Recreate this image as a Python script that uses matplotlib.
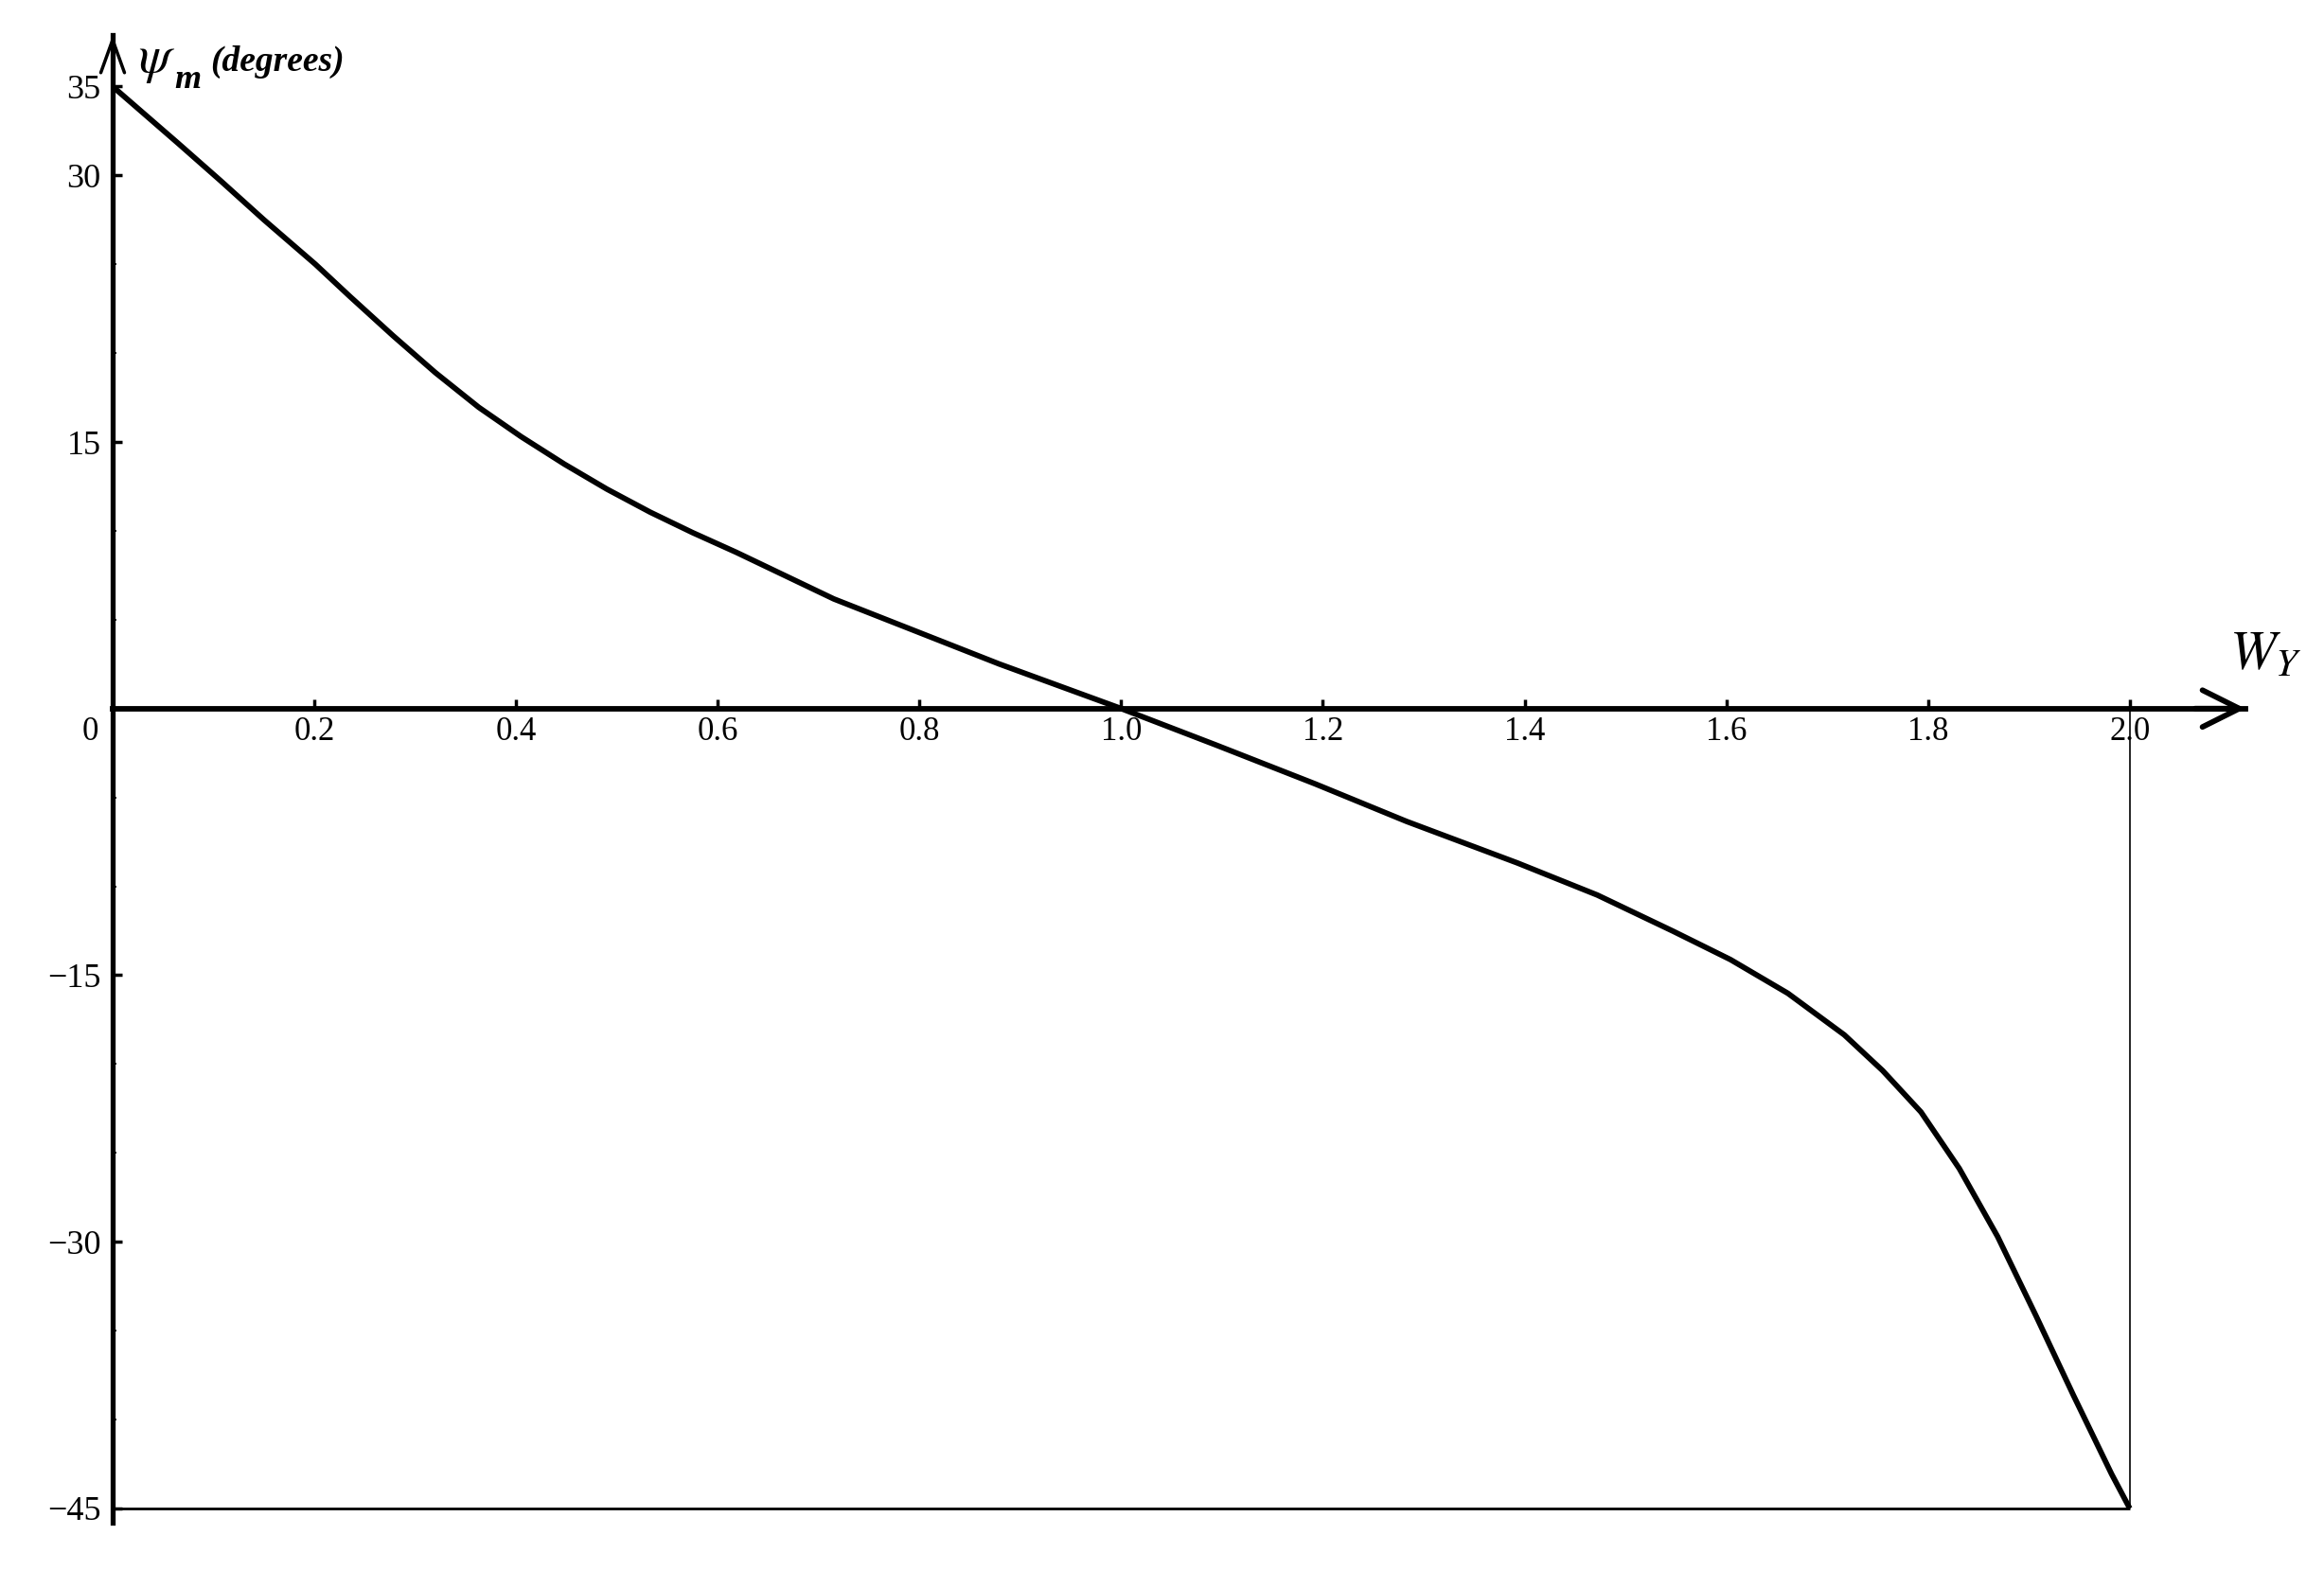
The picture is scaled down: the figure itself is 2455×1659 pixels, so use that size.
import matplotlib
matplotlib.use("Agg")
import matplotlib.pyplot as plt
from matplotlib.patches import ArrowStyle
from matplotlib.ticker import MultipleLocator

# ---- data ----
w_values = [0.0, 0.065, 0.107, 0.150, 0.201, 0.235, 0.278, 0.320, 0.363,
            0.405, 0.448, 0.490, 0.533, 0.575, 0.618, 0.715, 0.879, 1.0,
            1.094, 1.192, 1.283, 1.393, 1.472, 1.547, 1.604, 1.661, 1.717,
            1.755, 1.793, 1.831, 1.869, 1.907, 1.944, 1.982, 2.0]
psi_values = [35.0, 31.8, 29.7, 27.5, 25.0, 23.2, 20.98, 18.9, 16.95,
              15.3, 13.75, 12.35, 11.05, 9.9, 8.8, 6.17, 2.51, 0.0,
              -2.05, -4.23, -6.35, -8.69, -10.49, -12.52, -14.12, -16.02,
              -18.36, -20.37, -22.70, -25.88, -29.71, -34.16, -38.62, -43.07,
              -45.0]
x_ticks = [0.2, 0.4, 0.6, 0.8, 1.0, 1.2, 1.4, 1.6, 1.8, 2.0]
x_tick_labels = ["0.2", "0.4", "0.6", "0.8", "1.0", "1.2", "1.4", "1.6", "1.8", "2.0"]
y_ticks = [35, 30, 15, -15, -30, -45]
y_tick_labels = ["35", "30", "15", "\u221215", "\u221230", "\u221245"]
x_label = r"$W_Y$"
y_label_sym = r"$\psi$"
y_label_sub = "m"
y_label_unit = "(degrees)"

plt.rcParams["font.family"] = ["Liberation Serif", "DejaVu Serif"]
plt.rcParams["mathtext.fontset"] = "stix"

fig = plt.figure(figsize=(24.55, 16.59), dpi=100)
W, H = 1568.0, 1060.0
left = 76 / W
right = 1515 / W
top = 23.6 / H
bottom = 1028 / H
ax = fig.add_axes([left, 1 - bottom, right - left, bottom - top])

x_max = 2.0 + (1515 - 1437) / 680.0
ax.set_xlim(0, x_max)
ax.set_ylim(-45.8, 37.9)

# spines: y axis at x=0, x axis at y=0
for s in ["top", "right"]:
    ax.spines[s].set_visible(False)
ax.spines["left"].set_position(("data", 0))
ax.spines["bottom"].set_position(("data", 0))
ax.spines["left"].set_linewidth(3.8)
ax.spines["bottom"].set_linewidth(4.2)

# frame lines at -45 and x=2
ax.hlines(-45, 0, 2.0, colors="black", linewidth=2.0, zorder=2)
ax.vlines(2.0, -45, 0, colors="black", linewidth=1.2, zorder=2)

# curve
ax.plot(w_values, psi_values, color="black", linewidth=4.2,
        solid_joinstyle="round", solid_capstyle="butt", zorder=3)

# ticks
ax.set_xticks(x_ticks)
ax.set_xticklabels(x_tick_labels)
ax.set_yticks(y_ticks)
ax.set_yticklabels(y_tick_labels)
ax.yaxis.set_minor_locator(MultipleLocator(5))
ax.tick_params(axis="x", direction="in", length=7, width=2.5, labelsize=25,
               pad=6, colors="black")
ax.tick_params(axis="y", direction="in", length=7, width=2.5, labelsize=26,
               pad=9, colors="black")
ax.tick_params(axis="y", which="minor", direction="in", length=3, width=1.2)
ax.tick_params(axis="x", which="minor", length=0)

# origin label
ax.annotate("0", xy=(0, 0), xycoords="data", xytext=(-11, -6),
            textcoords="offset points", ha="right", va="top", fontsize=25)

# arrows at axis ends
ax.annotate("", xy=(x_max, 0), xytext=(x_max - 0.05, 0),
            arrowprops=dict(arrowstyle=ArrowStyle("->", head_length=1.4, head_width=0.7),
                            lw=4.2, color="black", mutation_scale=20,
                            shrinkA=0, shrinkB=0))
ax.annotate("", xy=(0, 37.9), xytext=(0, 35.5),
            arrowprops=dict(arrowstyle=ArrowStyle("->", head_length=1.25, head_width=0.45),
                            lw=2.5, color="black", mutation_scale=20,
                            shrinkA=0, shrinkB=0))

# axis labels
fig.text(93 / W, 1 - 41 / H, y_label_sym, fontsize=40, ha="left", va="center")
fig.text(118 / W, 1 - 54 / H, y_label_sub, fontsize=26, fontweight="bold",
         style="italic", ha="left", va="center")
fig.text(142 / W, 1 - 42 / H, y_label_unit, fontsize=27, fontweight="bold",
         style="italic", ha="left", va="center")
fig.text(1504 / W, 1 - 443 / H, x_label, fontsize=42, ha="left", va="center")

fig.savefig("out.png", dpi=100, facecolor="white")
